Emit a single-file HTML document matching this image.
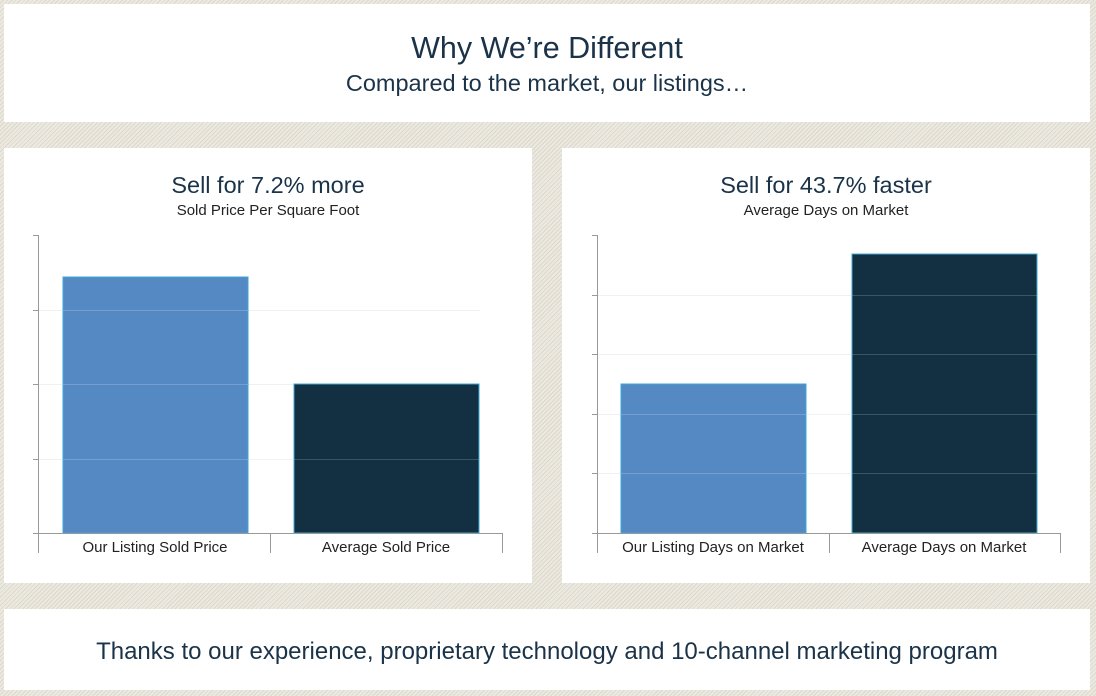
<!DOCTYPE html>
<html><head><style>
body{margin:0;width:1096px;height:696px;overflow:hidden;font-family:"Liberation Sans",sans-serif;
background:repeating-linear-gradient(135deg,#ece9e1 0 2px,#dcd8cc 2px 3px);}
.p{position:absolute;background:#fff;}
</style></head><body>
<div class="p" style="left:4px;top:4px;width:1086px;height:118px"></div>
<div class="p" style="left:4px;top:148px;width:528px;height:435px"></div>
<div class="p" style="left:562px;top:148px;width:528px;height:435px"></div>
<div class="p" style="left:4px;top:609px;width:1086px;height:81px"></div>
<svg width="1096" height="696" style="position:absolute;left:0;top:0" font-family="Liberation Sans, sans-serif">
<g fill="#1a3348" text-anchor="middle">
<text x="547" y="58" font-size="30.5">Why We’re Different</text>
<text x="547" y="91" font-size="23.5">Compared to the market, our listings…</text>
<text x="268" y="193" font-size="23.5">Sell for 7.2% more</text>
<text x="268" y="215" font-size="15" fill="#222">Sold Price Per Square Foot</text>
<text x="826" y="193" font-size="23.5">Sell for 43.7% faster</text>
<text x="826" y="215" font-size="15" fill="#222">Average Days on Market</text>
<text x="547" y="659" font-size="24">Thanks to our experience, proprietary technology and 10-channel marketing program</text>
</g>
<g stroke="#f0f0f0" stroke-width="1">
<line x1="38" y1="310.5" x2="480" y2="310.5"/><line x1="38" y1="384.5" x2="480" y2="384.5"/><line x1="38" y1="459.5" x2="480" y2="459.5"/>
</g>
<rect x="63" y="277" width="185" height="256" fill="#5589c4" stroke="#3aa8d8" stroke-width="1"/>
<rect x="294" y="384" width="185" height="149" fill="#132f42" stroke="#3aa8d8" stroke-width="1"/>
<g stroke="#ffffff" stroke-opacity="0.18">
<line x1="63" y1="310.5" x2="248" y2="310.5"/><line x1="63" y1="384.5" x2="248" y2="384.5"/><line x1="63" y1="459.5" x2="479" y2="459.5"/>
</g>
<g stroke="#999" fill="none">
<path d="M33 235.5H38.5V533.5M33 310.5H38M33 384.5H38M33 459.5H38M33 533.5H502.5M38.5 533V553M270.5 533V553M502.5 533V553"/>
</g>
<g font-size="15" fill="#222" text-anchor="middle">
<text x="155" y="552">Our Listing Sold Price</text><text x="386" y="552">Average Sold Price</text>
</g>
<g stroke="#f0f0f0">
<line x1="597" y1="295.5" x2="1037" y2="295.5"/><line x1="597" y1="354.5" x2="1037" y2="354.5"/><line x1="597" y1="414.5" x2="1037" y2="414.5"/><line x1="597" y1="473.5" x2="1037" y2="473.5"/>
</g>
<rect x="621" y="384" width="185" height="149" fill="#5589c4" stroke="#3aa8d8"/>
<rect x="852" y="254" width="185" height="279" fill="#132f42" stroke="#3aa8d8"/>
<g stroke="#ffffff" stroke-opacity="0.18">
<line x1="852" y1="295.5" x2="1037" y2="295.5"/><line x1="852" y1="354.5" x2="1037" y2="354.5"/><line x1="621" y1="414.5" x2="1037" y2="414.5"/><line x1="621" y1="473.5" x2="1037" y2="473.5"/>
</g>
<g stroke="#999" fill="none">
<path d="M592 235.5H597.5V533.5M592 295.5H597M592 354.5H597M592 414.5H597M592 473.5H597M592 533.5H1060.5M597.5 533V553M829.5 533V553M1060.5 533V553"/>
</g>
<g font-size="15" fill="#222" text-anchor="middle">
<text x="713" y="552">Our Listing Days on Market</text><text x="944" y="552">Average Days on Market</text>
</g>
</svg>
</body></html>
